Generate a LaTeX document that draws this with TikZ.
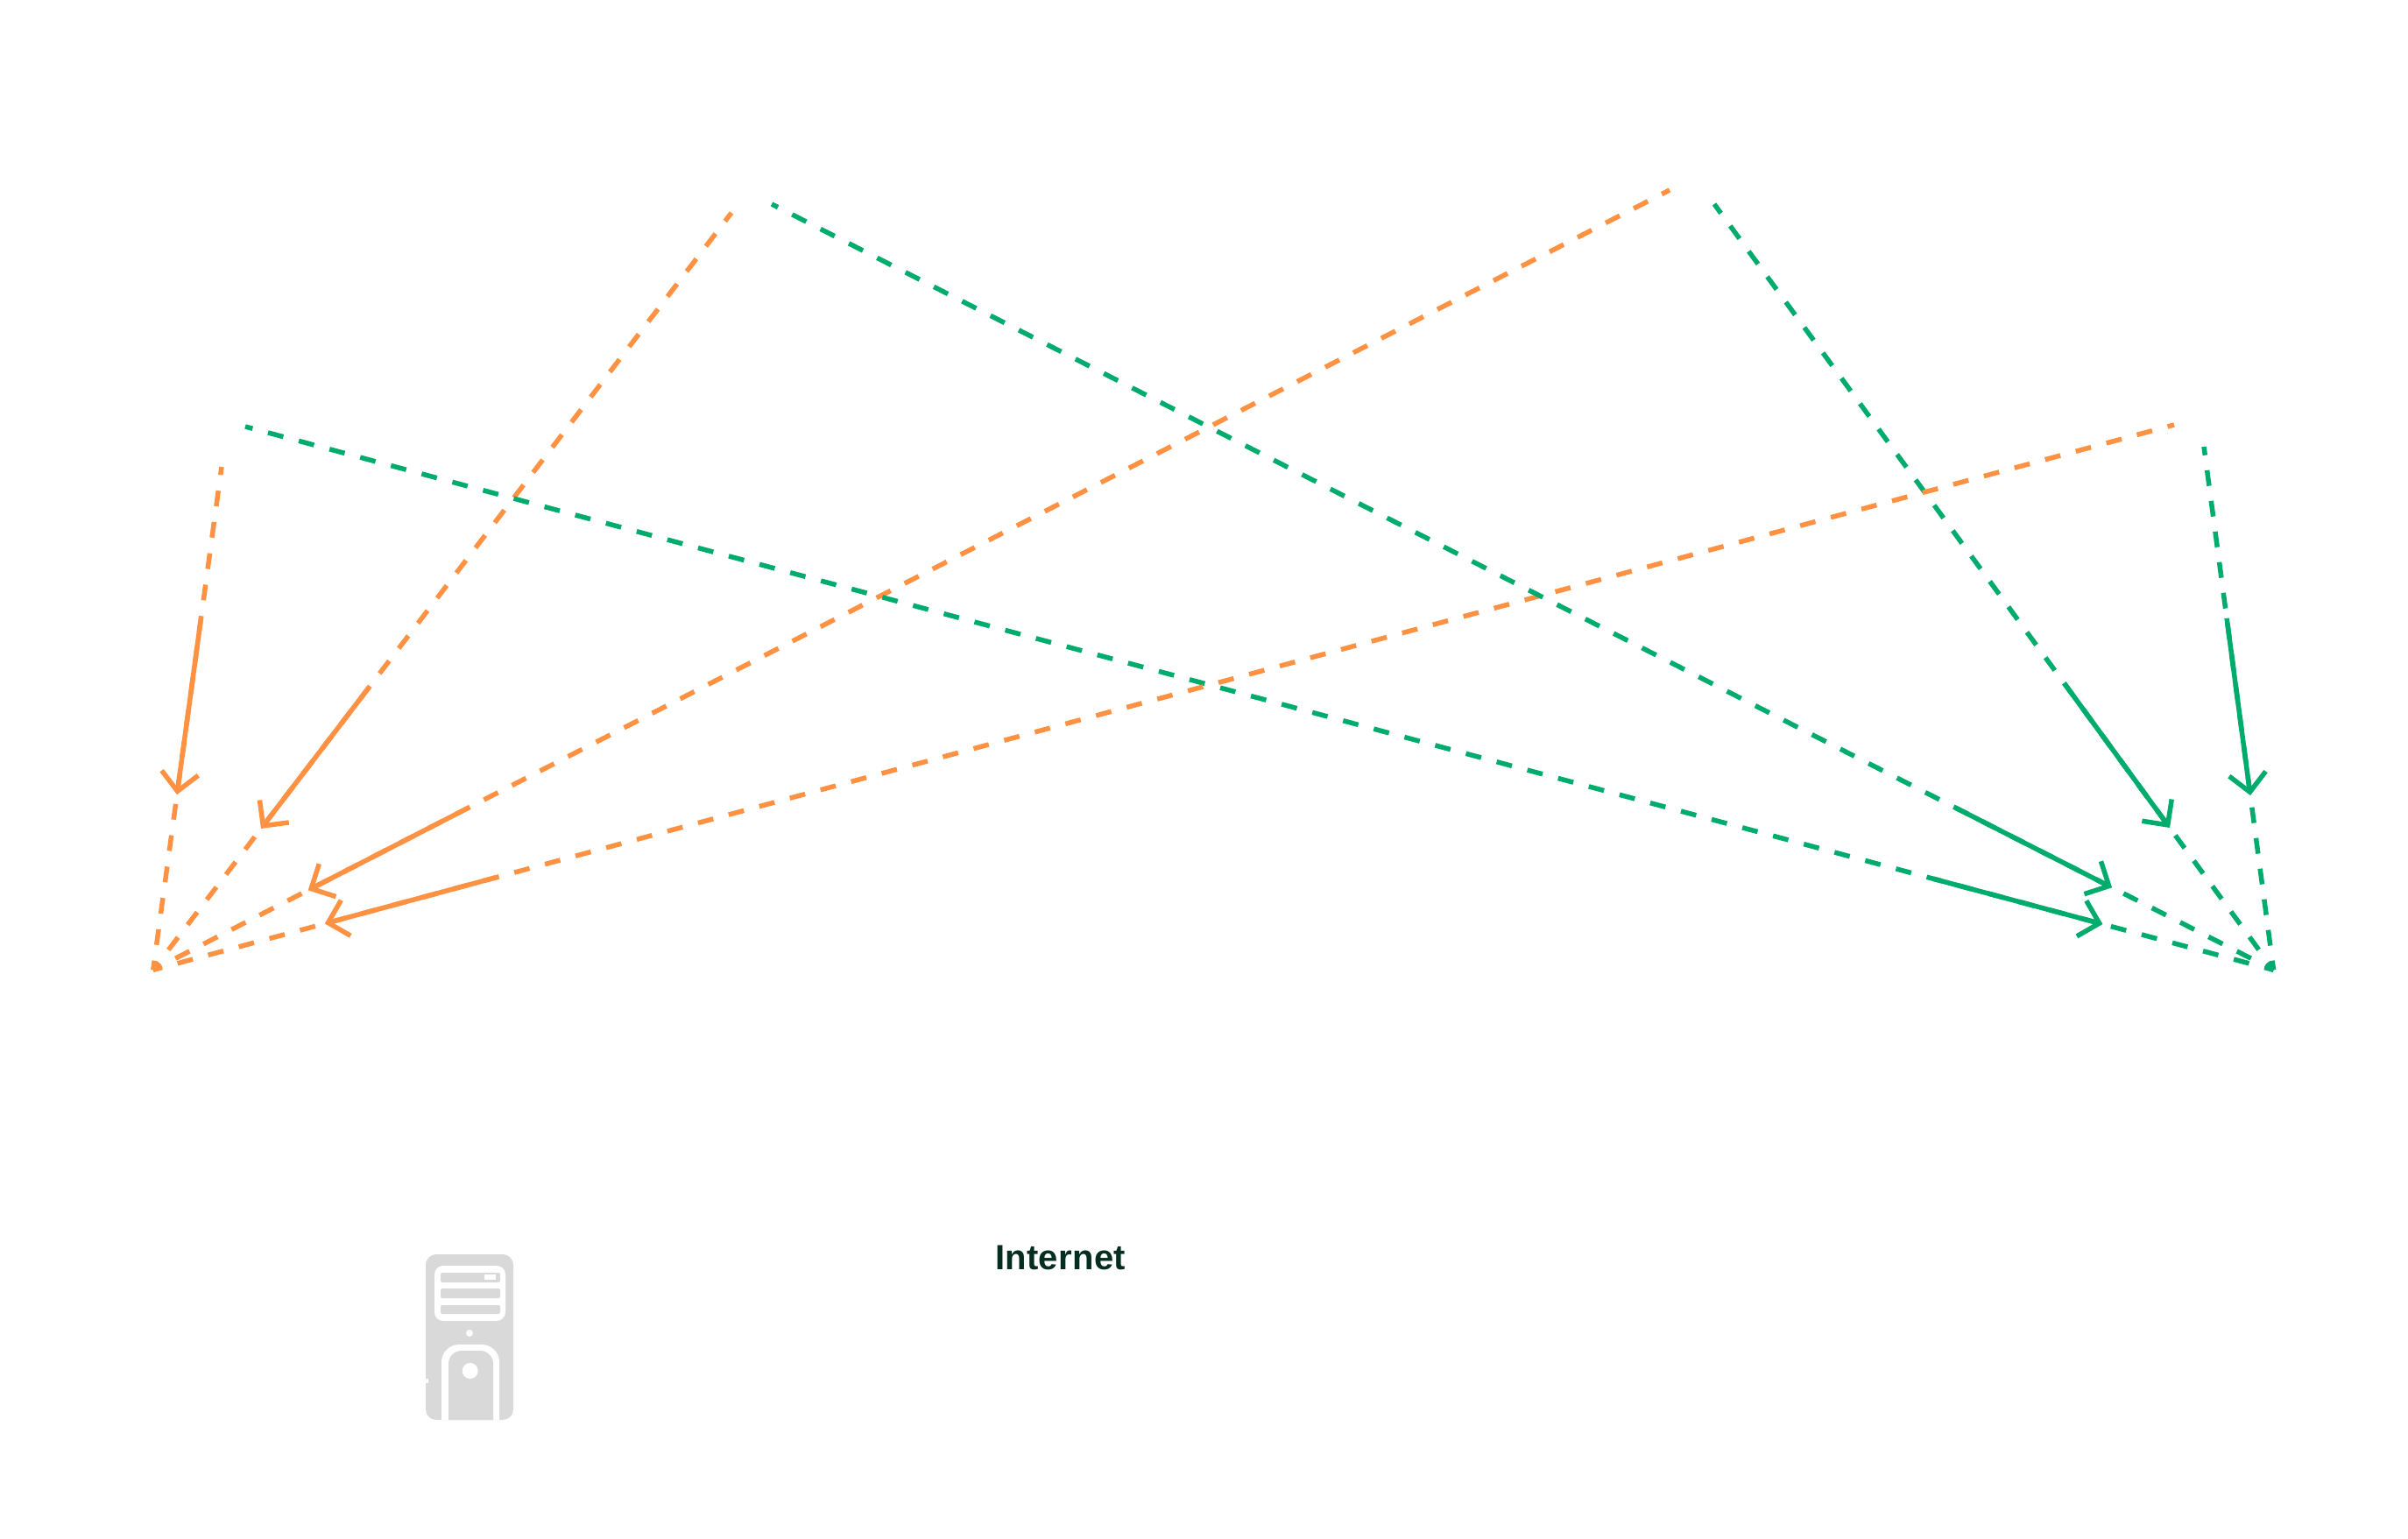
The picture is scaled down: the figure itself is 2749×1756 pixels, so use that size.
\documentclass[tikz,border=0pt]{standalone}
\usepackage[rgb]{xcolor}
\usepackage{fontspec}
\usepackage{tikz}
\usetikzlibrary{arrows.meta, calc}
\setmainfont[LetterSpace=0.8]{Liberation Sans}

\definecolor{linkorange}{HTML}{FF9142}
\definecolor{linkgreen}{HTML}{00AB6E}
\definecolor{icongray}{HTML}{D9D9D9}
\definecolor{labeldark}{HTML}{052E20}

\tikzset{
  trace/.style={line width=5.5pt, dash pattern=on 18pt off #1pt, dash phase=7.3pt},
  packet/.style={line width=5.5pt, -{Straight Barb[length=21pt,width=42pt,line width=5.5pt]}},
  label/.style={font=\bfseries\fontsize{40}{40}\selectfont, text=labeldark, inner sep=0pt, anchor=base}
}

\begin{document}
\begin{tikzpicture}[x=1pt, y=-1pt]

\useasboundingbox (0,0) rectangle (2749,1756);

% Orange ends
\path
(174.8,1107.3) coordinate (orangeSrc)
(253,533) coordinate (orangeTopA)
(835,243) coordinate (orangeTopB)
(1906,217) coordinate (orangeTopC)
(2482,485) coordinate (orangeTopD)
($(orangeSrc)!406pt!(orangeTopA)$) coordinate (orangeTailA)
($(orangeSrc)!202pt!(orangeTopA)$) coordinate (orangeTipA)
($(orangeSrc)!406pt!(orangeTopB)$) coordinate (orangeTailB)
($(orangeSrc)!203pt!(orangeTopB)$) coordinate (orangeTipB)
($(orangeSrc)!405pt!(orangeTopC)$) coordinate (orangeTailC)
($(orangeSrc)!199pt!(orangeTopC)$) coordinate (orangeTipC)
($(orangeSrc)!406pt!(orangeTopD)$) coordinate (orangeTailD)
($(orangeSrc)!203pt!(orangeTopD)$) coordinate (orangeTipD);

% Green ends
\path
(2595.5,1107.3) coordinate (greenSrc)
(2516,510) coordinate (greenTopA)
(1957,233) coordinate (greenTopB)
(881,233) coordinate (greenTopC)
(280,487) coordinate (greenTopD)
($(greenSrc)!405pt!(greenTopA)$) coordinate (greenTailA)
($(greenSrc)!201pt!(greenTopA)$) coordinate (greenTipA)
($(greenSrc)!405pt!(greenTopB)$) coordinate (greenTailB)
($(greenSrc)!201pt!(greenTopB)$) coordinate (greenTipB)
($(greenSrc)!407pt!(greenTopC)$) coordinate (greenTailC)
($(greenSrc)!207pt!(greenTopC)$) coordinate (greenTipC)
($(greenSrc)!402pt!(greenTopD)$) coordinate (greenTailD)
($(greenSrc)!202pt!(greenTopD)$) coordinate (greenTipD);

% Traces, in the order they overlap
\draw[trace=18.1, linkorange] (orangeSrc) -- (orangeTopA);
\draw[trace=18.1, linkorange] (orangeSrc) -- (orangeTopB);
\draw[trace=18.0, linkorange] (orangeSrc) -- (orangeTopC);
\draw[trace=17.3, linkgreen] (greenSrc) -- (greenTopA);
\draw[trace=17.9, linkgreen] (greenSrc) -- (greenTopB);
\draw[trace=18.3, linkgreen] (greenSrc) -- (greenTopD);
\draw[trace=18.2, linkorange] (orangeSrc) -- (orangeTopD);
\draw[trace=18.3, linkgreen] (greenSrc) -- (greenTopC);

% Orange packets
\draw[packet, linkorange] (orangeTailA) -- (orangeTipA);
\draw[packet, linkorange] (orangeTailB) -- (orangeTipB);
\draw[packet, linkorange] (orangeTailC) -- (orangeTipC);
\draw[packet, linkorange, yshift=-1pt] (orangeTailD) -- (orangeTipD);

% Green packets
\draw[packet, linkgreen, xshift=-1.2pt] (greenTailA) -- (greenTipA);
\draw[packet, linkgreen] (greenTailB) -- (greenTipB);
\draw[packet, linkgreen] (greenTailC) -- (greenTipC);
\draw[packet, linkgreen] (greenTailD) -- (greenTipD);

% Label
\node[label] (internet) at (1210.5,1449) {Internet};

% Server tower
\fill[icongray, rounded corners=12pt] (486,1432) rectangle (586,1621);
\fill[white, rounded corners=10pt] (496,1445) rectangle (577,1508);
\fill[icongray, rounded corners=2pt] (503,1453) rectangle (571,1464);
\fill[icongray, rounded corners=2pt] (503,1471) rectangle (571,1482);
\fill[icongray, rounded corners=2pt] (503,1490) rectangle (571,1500);
\fill[white] (553,1455) rectangle (566,1461);
\fill[white] (536,1522) circle [radius=4];
\fill[white] (504,1621) [rounded corners=20pt] -- (504,1535) -- (570,1535) [sharp corners] -- (570,1621) -- cycle;
\fill[icongray] (512,1621) [rounded corners=15pt] -- (512,1542) -- (563,1542) [sharp corners] -- (563,1621) -- cycle;
\fill[white] (536.7,1565) circle [radius=9];
\fill[white] (486,1574) rectangle (489,1579);

\end{tikzpicture}
\end{document}
